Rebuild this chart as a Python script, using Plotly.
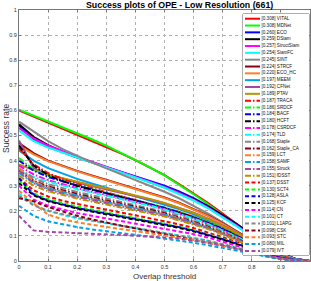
import plotly.graph_objects as go

thresholds = [0.0, 0.05, 0.1, 0.15, 0.2, 0.25, 0.3, 0.35, 0.4, 0.45, 0.5,
              0.55, 0.6, 0.65, 0.7, 0.75, 0.8, 0.85, 0.9, 0.95, 1.0]

trackers = ["VITAL", "MDNet", "ECO", "DSiam", "StructSiam", "SiamFC", "SINT",
            "STRCF", "ECO_HC", "MEEM", "CFNet", "PTAV", "TRACA", "SRDCF", "BACF",
            "HCFT", "CSRDCF", "TLD", "Staple", "Staple_CA", "LCT", "SAMF", "Struck",
            "fDSST", "DSST", "SCT4", "ASLA", "KCF", "CN", "CT", "L1APG", "CSK",
            "STC", "MIL", "IVT"]

auc_scores = [0.308, 0.308, 0.260, 0.259, 0.257, 0.254, 0.245, 0.224, 0.220, 0.197,
              0.192, 0.189, 0.187, 0.186, 0.184, 0.180, 0.178, 0.174, 0.168, 0.162,
              0.159, 0.158, 0.155, 0.151, 0.137, 0.130, 0.128, 0.125, 0.114, 0.101,
              0.101, 0.098, 0.093, 0.080, 0.079]

success_rates = [
    [0.600, 0.576, 0.552, 0.528, 0.504, 0.480, 0.456, 0.429, 0.402, 0.372, 0.342, 0.306, 0.270, 0.231, 0.189, 0.147, 0.102, 0.060, 0.030, 0.009, 0],
    [0.603, 0.580, 0.557, 0.533, 0.509, 0.485, 0.460, 0.432, 0.404, 0.373, 0.341, 0.304, 0.266, 0.226, 0.184, 0.142, 0.098, 0.057, 0.028, 0.008, 0],
    [0.540, 0.485, 0.455, 0.432, 0.412, 0.393, 0.375, 0.357, 0.339, 0.320, 0.300, 0.277, 0.250, 0.219, 0.184, 0.146, 0.104, 0.064, 0.030, 0.008, 0],
    [0.545, 0.495, 0.462, 0.436, 0.414, 0.393, 0.373, 0.354, 0.335, 0.315, 0.295, 0.272, 0.246, 0.216, 0.182, 0.144, 0.102, 0.062, 0.029, 0.008, 0],
    [0.530, 0.488, 0.460, 0.437, 0.416, 0.396, 0.376, 0.356, 0.336, 0.316, 0.295, 0.271, 0.244, 0.213, 0.178, 0.140, 0.099, 0.060, 0.028, 0.007, 0],
    [0.520, 0.478, 0.452, 0.431, 0.411, 0.392, 0.373, 0.354, 0.334, 0.313, 0.292, 0.268, 0.241, 0.210, 0.175, 0.137, 0.096, 0.058, 0.027, 0.007, 0],
    [0.555, 0.515, 0.478, 0.446, 0.418, 0.393, 0.369, 0.346, 0.323, 0.300, 0.276, 0.250, 0.221, 0.189, 0.154, 0.117, 0.079, 0.045, 0.020, 0.005, 0],
    [0.470, 0.430, 0.400, 0.378, 0.359, 0.341, 0.324, 0.307, 0.290, 0.272, 0.253, 0.232, 0.208, 0.181, 0.150, 0.117, 0.082, 0.049, 0.022, 0.005, 0],
    [0.460, 0.425, 0.398, 0.376, 0.357, 0.339, 0.322, 0.305, 0.288, 0.270, 0.251, 0.230, 0.206, 0.179, 0.148, 0.115, 0.080, 0.047, 0.021, 0.005, 0],
    [0.440, 0.400, 0.370, 0.347, 0.327, 0.309, 0.292, 0.276, 0.260, 0.243, 0.226, 0.207, 0.186, 0.162, 0.135, 0.105, 0.073, 0.043, 0.019, 0.005, 0],
    [0.480, 0.370, 0.345, 0.328, 0.313, 0.299, 0.286, 0.273, 0.259, 0.245, 0.230, 0.212, 0.192, 0.169, 0.142, 0.112, 0.079, 0.047, 0.021, 0.005, 0],
    [0.385, 0.362, 0.344, 0.329, 0.315, 0.302, 0.289, 0.276, 0.262, 0.247, 0.231, 0.212, 0.191, 0.167, 0.140, 0.110, 0.077, 0.046, 0.021, 0.005, 0],
    [0.450, 0.385, 0.350, 0.326, 0.306, 0.289, 0.273, 0.258, 0.243, 0.228, 0.212, 0.195, 0.176, 0.154, 0.129, 0.101, 0.071, 0.042, 0.019, 0.005, 0],
    [0.410, 0.365, 0.338, 0.318, 0.301, 0.286, 0.272, 0.258, 0.244, 0.229, 0.213, 0.196, 0.177, 0.155, 0.130, 0.102, 0.071, 0.042, 0.019, 0.005, 0],
    [0.400, 0.360, 0.335, 0.316, 0.300, 0.285, 0.271, 0.257, 0.243, 0.228, 0.212, 0.194, 0.175, 0.153, 0.128, 0.100, 0.070, 0.041, 0.018, 0.004, 0],
    [0.460, 0.380, 0.342, 0.318, 0.299, 0.283, 0.268, 0.254, 0.240, 0.225, 0.209, 0.192, 0.173, 0.151, 0.126, 0.098, 0.068, 0.040, 0.018, 0.004, 0],
    [0.380, 0.345, 0.322, 0.305, 0.290, 0.276, 0.263, 0.250, 0.236, 0.222, 0.206, 0.189, 0.170, 0.148, 0.123, 0.096, 0.067, 0.039, 0.017, 0.004, 0],
    [0.360, 0.335, 0.316, 0.300, 0.286, 0.273, 0.260, 0.247, 0.234, 0.220, 0.205, 0.188, 0.169, 0.147, 0.122, 0.095, 0.066, 0.038, 0.017, 0.004, 0],
    [0.370, 0.330, 0.306, 0.289, 0.275, 0.262, 0.249, 0.237, 0.224, 0.211, 0.196, 0.180, 0.162, 0.141, 0.117, 0.091, 0.063, 0.037, 0.016, 0.004, 0],
    [0.360, 0.320, 0.297, 0.281, 0.267, 0.254, 0.242, 0.230, 0.217, 0.204, 0.190, 0.174, 0.156, 0.136, 0.113, 0.088, 0.061, 0.035, 0.015, 0.004, 0],
    [0.370, 0.318, 0.292, 0.275, 0.261, 0.249, 0.237, 0.225, 0.213, 0.200, 0.186, 0.171, 0.153, 0.133, 0.111, 0.086, 0.060, 0.035, 0.015, 0.004, 0],
    [0.350, 0.312, 0.289, 0.273, 0.260, 0.248, 0.236, 0.224, 0.212, 0.199, 0.185, 0.170, 0.152, 0.132, 0.110, 0.085, 0.059, 0.034, 0.015, 0.004, 0],
    [0.360, 0.310, 0.285, 0.268, 0.255, 0.243, 0.231, 0.219, 0.207, 0.195, 0.181, 0.166, 0.149, 0.130, 0.108, 0.084, 0.058, 0.034, 0.015, 0.004, 0],
    [0.340, 0.300, 0.278, 0.262, 0.249, 0.237, 0.225, 0.214, 0.202, 0.190, 0.177, 0.162, 0.146, 0.127, 0.105, 0.082, 0.057, 0.033, 0.014, 0.003, 0],
    [0.330, 0.282, 0.257, 0.240, 0.227, 0.215, 0.204, 0.193, 0.182, 0.171, 0.159, 0.146, 0.131, 0.114, 0.095, 0.074, 0.051, 0.030, 0.013, 0.003, 0],
    [0.320, 0.270, 0.246, 0.230, 0.217, 0.205, 0.194, 0.183, 0.172, 0.161, 0.150, 0.137, 0.123, 0.107, 0.089, 0.069, 0.048, 0.028, 0.012, 0.003, 0],
    [0.330, 0.265, 0.240, 0.224, 0.211, 0.200, 0.189, 0.179, 0.169, 0.158, 0.147, 0.135, 0.121, 0.105, 0.087, 0.068, 0.047, 0.027, 0.012, 0.003, 0],
    [0.310, 0.262, 0.238, 0.222, 0.209, 0.197, 0.186, 0.176, 0.165, 0.155, 0.144, 0.132, 0.118, 0.103, 0.085, 0.066, 0.046, 0.027, 0.011, 0.003, 0],
    [0.300, 0.245, 0.220, 0.204, 0.191, 0.180, 0.170, 0.160, 0.150, 0.140, 0.130, 0.119, 0.107, 0.093, 0.077, 0.060, 0.041, 0.024, 0.010, 0.002, 0],
    [0.270, 0.225, 0.200, 0.183, 0.170, 0.159, 0.149, 0.140, 0.131, 0.122, 0.113, 0.103, 0.092, 0.080, 0.066, 0.051, 0.035, 0.020, 0.009, 0.002, 0],
    [0.260, 0.222, 0.200, 0.185, 0.173, 0.162, 0.152, 0.142, 0.133, 0.124, 0.114, 0.104, 0.093, 0.081, 0.067, 0.052, 0.036, 0.021, 0.009, 0.002, 0],
    [0.250, 0.238, 0.215, 0.196, 0.180, 0.166, 0.153, 0.141, 0.130, 0.119, 0.108, 0.097, 0.086, 0.074, 0.061, 0.047, 0.032, 0.019, 0.008, 0.002, 0],
    [0.280, 0.230, 0.185, 0.166, 0.154, 0.144, 0.135, 0.127, 0.119, 0.111, 0.103, 0.094, 0.084, 0.073, 0.061, 0.047, 0.032, 0.019, 0.008, 0.002, 0],
    [0.220, 0.180, 0.158, 0.145, 0.135, 0.126, 0.118, 0.111, 0.104, 0.097, 0.090, 0.082, 0.073, 0.063, 0.052, 0.040, 0.028, 0.016, 0.007, 0.002, 0],
    [0.180, 0.122, 0.116, 0.113, 0.110, 0.108, 0.106, 0.104, 0.101, 0.098, 0.094, 0.089, 0.082, 0.073, 0.062, 0.049, 0.035, 0.021, 0.009, 0.002, 0],
]

tick_vals = [0, 0.1, 0.2, 0.3, 0.4, 0.5, 0.6, 0.7, 0.8, 0.9, 1]
tick_text = ["0", "0.1", "0.2", "0.3", "0.4", "0.5", "0.6", "0.7", "0.8", "0.9", "1"]

palette = ["rgb(255,0,0)", "rgb(0,255,0)", "rgb(0,0,255)", "rgb(0,0,0)",
           "rgb(255,0,255)", "rgb(0,255,255)", "rgb(136,136,136)", "rgb(136,0,21)",
           "rgb(255,127,39)", "rgb(0,162,232)", "rgb(163,73,164)", "rgb(191,144,0)"]
dash_styles = ["solid", "6px,2px,1.5px,2px", "4px,2.5px"]

FONT = "Liberation Sans"
W, H = 311, 281
L, R, T, B = 19, 1, 10, 20
PW, PH = W - L - R, H - T - B


def px_x(p):
    return (p - L) / PW


def px_y(p):
    return (H - B - p) / PH


fig = go.Figure()

for i, name in enumerate(trackers):
    fig.add_trace(go.Scatter(
        x=thresholds, y=success_rates[i], mode="lines",
        line=dict(color=palette[i % 12], width=2, dash=dash_styles[i // 12]),
        showlegend=False, hoverinfo="skip"))

# custom compact legend drawn on an auxiliary axis pair
n = len(trackers)
for i, name in enumerate(trackers):
    fig.add_trace(go.Scatter(
        x=[2, 17], y=[i, i], mode="lines", xaxis="x2", yaxis="y2",
        line=dict(color=palette[i % 12], width=2, dash=dash_styles[i // 12]),
        showlegend=False, hoverinfo="skip"))

labels = [f"[{s:.3f}] {t}" for s, t in zip(auc_scores, trackers)]
fig.add_trace(go.Scatter(
    x=[18.5] * n, y=list(range(n)), mode="text", text=labels,
    textposition="middle right", xaxis="x2", yaxis="y2", cliponaxis=False,
    textfont=dict(family=FONT, size=4.6, color="#111"),
    showlegend=False, hoverinfo="skip"))

axis_common = dict(
    showgrid=True, gridcolor="#b0b0b0", gridwidth=0.8, griddash="dot",
    showline=True, linecolor="#777", linewidth=1, mirror="ticks",
    ticks="inside", ticklen=2, tickcolor="#777", zeroline=False,
    tickvals=tick_vals, ticktext=tick_text,
    tickfont=dict(family=FONT, size=5.5, color="#333"), fixedrange=True)

fig.update_layout(
    width=W, height=H,
    margin=dict(l=L, r=R, t=T, b=B, pad=0),
    paper_bgcolor="white", plot_bgcolor="white",
    showlegend=False,
    xaxis=dict(range=[0, 1], domain=[0, 1], **axis_common),
    yaxis=dict(range=[0, 1], domain=[0, 1], **axis_common),
    xaxis2=dict(domain=[px_x(243), px_x(309)], range=[0, 66], visible=False,
                anchor="y2", fixedrange=True),
    yaxis2=dict(domain=[px_y(255), px_y(14)], range=[34.6, -0.69], visible=False,
                anchor="x2", fixedrange=True),
    shapes=[dict(type="rect", xref="x2 domain", yref="y2 domain",
                 x0=0, x1=1, y0=0, y1=1, fillcolor="white",
                 line=dict(color="#333", width=0.8), layer="below")],
    annotations=[
        dict(text="<b>Success plots of OPE - Low Resolution (661)</b>",
             x=px_x(179.5), y=px_y(5), xref="paper", yref="paper",
             showarrow=False, xanchor="center", yanchor="middle",
             font=dict(family=FONT, size=8.8, color="black")),
        dict(text="Overlap threshold", x=px_x(164.5), y=px_y(276),
             xref="paper", yref="paper", showarrow=False,
             xanchor="center", yanchor="middle",
             font=dict(family=FONT, size=8, color="#333")),
        dict(text="Success rate", x=px_x(6), y=px_y(129),
             xref="paper", yref="paper", showarrow=False, textangle=-90,
             xanchor="center", yanchor="middle",
             font=dict(family=FONT, size=8.5, color="#333")),
    ],
)

fig.write_html("out.html", config={"displayModeBar": False},
               post_script="document.body.style.margin='0';"
                           "document.body.style.overflow='hidden';")
